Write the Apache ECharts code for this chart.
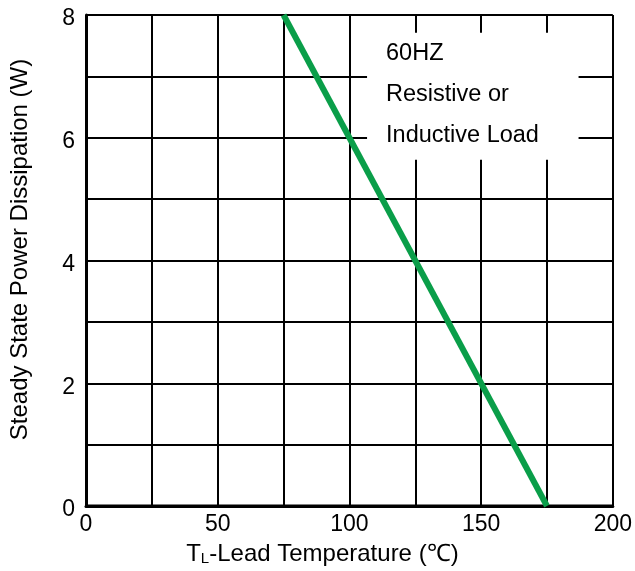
<!DOCTYPE html>
<html>
<head>
<meta charset="utf-8">
<script src="https://cdn.jsdelivr.net/npm/echarts@6/dist/echarts.min.js"></script>
<style>html,body{margin:0;padding:0;background:#fff;}#c{width:635px;height:571px;}</style>
</head>
<body>
<div id="c"></div>
<script>
// Data
const temperature = [75, 175];          // °C
const powerDissipation = [8, 0];        // W
const xTicks = [0, 50, 100, 150, 200];
const yTicks = [0, 2, 4, 6, 8];
const noteLines = ['60HZ', 'Resistive or', 'Inductive Load'];
const noteBox = [[106.7, 7.71], [187, 5.64]];

const FONT = '"Liberation Sans", Arial, sans-serif';
const chart = echarts.init(document.getElementById('c'), null, {renderer: 'canvas'});
const option = {
  animation: false,
  backgroundColor: '#fff',
  grid: {left: 82, right: 18, top: 15, bottom: 65, containLabel: false},
  xAxis: {
    type: 'value', min: 0, max: 200, interval: 25,
    name: 'T{sub|L}-Lead Temperature (℃)',
    nameLocation: 'middle', nameGap: 36,
    nameTextStyle: {
      fontFamily: FONT, fontSize: 24, color: '#000', padding: [0, 54, 0, 0],
      rich: {sub: {fontFamily: FONT, fontSize: 15, color: '#000', verticalAlign: 'bottom', lineHeight: 15}}
    },
    axisLine: {show: true, lineStyle: {color: '#000', width: 3}},
    axisTick: {show: false},
    splitLine: {show: true, lineStyle: {color: '#000', width: 2}},
    axisLabel: {
      fontFamily: FONT, fontSize: 23, color: '#000', margin: 7,
      formatter: v => xTicks.includes(v) ? String(v) : ''
    }
  },
  yAxis: {
    type: 'value', min: 0, max: 8, interval: 1,
    name: 'Steady State Power Dissipation (W)',
    nameLocation: 'middle', nameGap: 54,
    nameTextStyle: {fontFamily: FONT, fontSize: 24, color: '#000', padding: [0, 0, 0, 22]},
    axisLine: {show: true, lineStyle: {color: '#000', width: 3}},
    axisTick: {show: false},
    splitLine: {show: true, lineStyle: {color: '#000', width: 2}},
    axisLabel: {
      fontFamily: FONT, fontSize: 23, color: '#000', margin: 11,
      verticalAlign: 'top', lineHeight: 8,
      formatter: v => yTicks.includes(v) ? String(v) : ''
    }
  },
  series: [{
    type: 'line',
    data: temperature.map((t, i) => [t, powerDissipation[i]]),
    symbol: 'none',
    lineStyle: {color: '#0a9e49', width: 6},
    z: 5,
    markArea: {
      silent: true,
      itemStyle: {color: '#fff', borderWidth: 0},
      label: {
        show: true, position: [19, 0], fontFamily: FONT, fontSize: 23.5, lineHeight: 41,
        color: '#000', align: 'left', verticalAlign: 'top',
        formatter: noteLines.join('\n')
      },
      data: [[{coord: noteBox[0]}, {coord: noteBox[1]}]]
    }
  }, {
    type: 'line', data: [[0, 0], [200, 0]], symbol: 'none', silent: true,
    lineStyle: {color: '#000', width: 3}, z: 1
  }]
};
chart.setOption(option);
</script>
</body>
</html>
